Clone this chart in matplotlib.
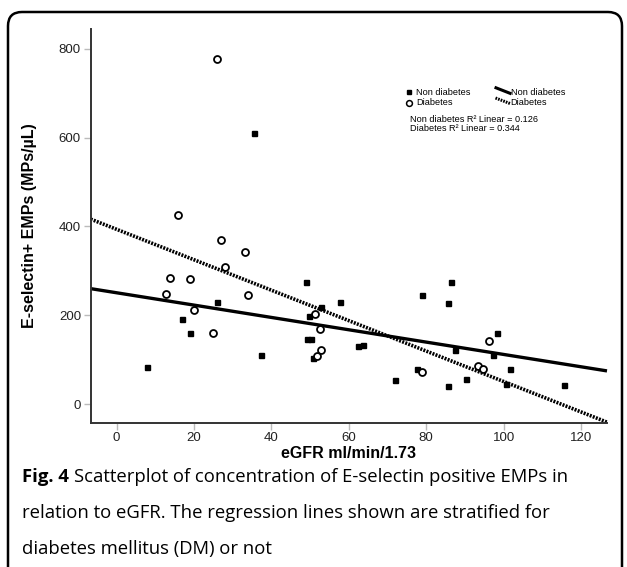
import numpy as np
import matplotlib
matplotlib.use("Agg")
import matplotlib.pyplot as plt
from matplotlib.patches import FancyBboxPatch
from matplotlib.lines import Line2D
from matplotlib.transforms import IdentityTransform

# ---- data ----
dm_egfr = [26.0, 15.9, 26.9, 13.8, 19.0, 33.2, 28.0, 12.9, 19.9, 24.9, 34.0,
           51.2, 52.6, 52.8, 51.9, 78.9, 96.2, 93.5, 94.6]
dm_emp = [778, 425, 369, 285, 281, 343, 309, 247, 212, 160, 246,
          202, 169, 122, 109, 72, 143, 86, 78]

nd_egfr = [35.4, 26.0, 17.0, 19.0, 8.0, 37.4, 49.0, 49.7, 52.7, 57.8, 49.1, 50.2,
           50.8, 62.5, 63.6, 72.0, 77.6, 79.0, 86.3, 85.5, 87.4, 85.7, 90.4, 98.2,
           97.2, 101.7, 100.6, 115.5]
nd_emp = [611, 229, 191, 161, 83, 111, 275, 199, 218, 230, 146, 146,
          104, 131, 134, 55, 80, 245, 275, 228, 122, 40, 56, 161,
          111, 78, 45, 42]

# regression lines (intercept, slope)
nd_fit = (250.7, -1.39)
dm_fit = (393.7, -3.43)

xticks = [0, 20, 40, 60, 80, 100, 120]
yticks = [0, 200, 400, 600, 800]
xlim = (-6.67, 126.7)
ylim = (-42.1, 845)

plt.rcParams['font.family'] = ['Liberation Sans', 'DejaVu Sans']

W, H = 627, 567
fig = plt.figure(figsize=(W / 100, H / 100), dpi=100)
fig.patch.set_facecolor('white')

ax = fig.add_axes([90.7 / W, 1 - 422.7 / H, (607 - 90.7) / W, (422.7 - 29) / H])
ax.set_xlim(*xlim)
ax.set_ylim(*ylim)
for s in ['top', 'right']:
    ax.spines[s].set_visible(False)
for s in ['left', 'bottom']:
    ax.spines[s].set_color('#333333')
    ax.spines[s].set_linewidth(1.4)

ax.set_xticks(xticks)
ax.set_yticks(yticks)
ax.tick_params(axis='both', direction='out', length=5, width=1, color='#bbbbbb',
               labelsize=9.5, labelcolor='#222222', pad=2)

# regression lines
xs = np.array(xlim)
ax.plot(xs, nd_fit[0] + nd_fit[1] * xs, color='black', lw=2.4, solid_capstyle='butt',
        clip_on=False, zorder=2)
ax.plot(xs, dm_fit[0] + dm_fit[1] * xs, color='black', lw=2.6,
        linestyle=(0, (0.55, 0.35)), dash_capstyle='butt', clip_on=False, zorder=2)

# points
ax.plot(nd_egfr, nd_emp, linestyle='none', marker='s', markersize=3.6,
        color='black', zorder=3)
ax.plot(dm_egfr, dm_emp, linestyle='none', marker='o', markersize=5,
        markerfacecolor='white', markeredgecolor='black', markeredgewidth=1.3, zorder=3)

ax.set_xlabel('eGFR ml/min/1.73', fontsize=11.5, fontweight='bold', labelpad=1)
ax.set_ylabel('E-selectin+ EMPs (MPs/\u00b5L)', fontsize=11.5, fontweight='bold', labelpad=16)

# ---- legend (SPSS style), in pixel coords ----
def px(x, y):
    return (x / W, 1 - y / H)

fs_leg = 6.6
fig.add_artist(Line2D([409.3 / W], [1 - 92.3 / H], marker='s', markersize=3,
                      color='black', linestyle='none'))
fig.add_artist(Line2D([409.3 / W], [1 - 102.8 / H], marker='o', markersize=4.2,
                      markerfacecolor='white', markeredgecolor='black',
                      markeredgewidth=1.1, linestyle='none'))
fig.text(*px(416.5, 92.3), 'Non diabetes', fontsize=fs_leg, va='center', ha='left')
fig.text(*px(416.5, 102.8), 'Diabetes', fontsize=fs_leg, va='center', ha='left')
fig.add_artist(Line2D([496 / W, 510 / W], [1 - 87.8 / H, 1 - 93.3 / H],
                      color='black', lw=2.2))
fig.add_artist(Line2D([495.5 / W, 510 / W], [1 - 98 / H, 1 - 103.5 / H],
                      color='black', lw=2.2, linestyle=(0, (0.55, 0.35))))
fig.text(*px(510.5, 92.3), 'Non diabetes', fontsize=fs_leg, va='center', ha='left')
fig.text(*px(510.5, 102.8), 'Diabetes', fontsize=fs_leg, va='center', ha='left')
fig.text(*px(410.5, 120), 'Non diabetes R\u00b2 Linear = 0.126', fontsize=fs_leg,
         va='center', ha='left')
fig.text(*px(410.5, 129), 'Diabetes R\u00b2 Linear = 0.344', fontsize=fs_leg,
         va='center', ha='left')

# ---- caption ----
cap_font = ['Open Sans', 'DejaVu Sans']
cap_fs = 13.3
fig.canvas.draw()
r = fig.canvas.get_renderer()
t_bold = fig.text(*px(22, 477), 'Fig. 4', fontsize=cap_fs, fontweight='bold',
                  family=cap_font, va='center', ha='left')
bb = t_bold.get_window_extent(renderer=r)
fig.text((bb.x1 + 5) / W, 1 - 477 / H,
         'Scatterplot of concentration of E-selectin positive EMPs in',
         fontsize=cap_fs, family=cap_font, va='center', ha='left')
fig.text(*px(22, 513), 'relation to eGFR. The regression lines shown are stratified for',
         fontsize=cap_fs, family=cap_font, va='center', ha='left')
fig.text(*px(22, 549), 'diabetes mellitus (DM) or not',
         fontsize=cap_fs, family=cap_font, va='center', ha='left')

# ---- rounded frame ----
frame = FancyBboxPatch((8, -30), 614, H - 12 + 30,
                       boxstyle='round,pad=0,rounding_size=14',
                       transform=IdentityTransform(), facecolor='none',
                       edgecolor='black', linewidth=1.8)
fig.patches.append(frame)

fig.savefig('out.png', dpi=100)
